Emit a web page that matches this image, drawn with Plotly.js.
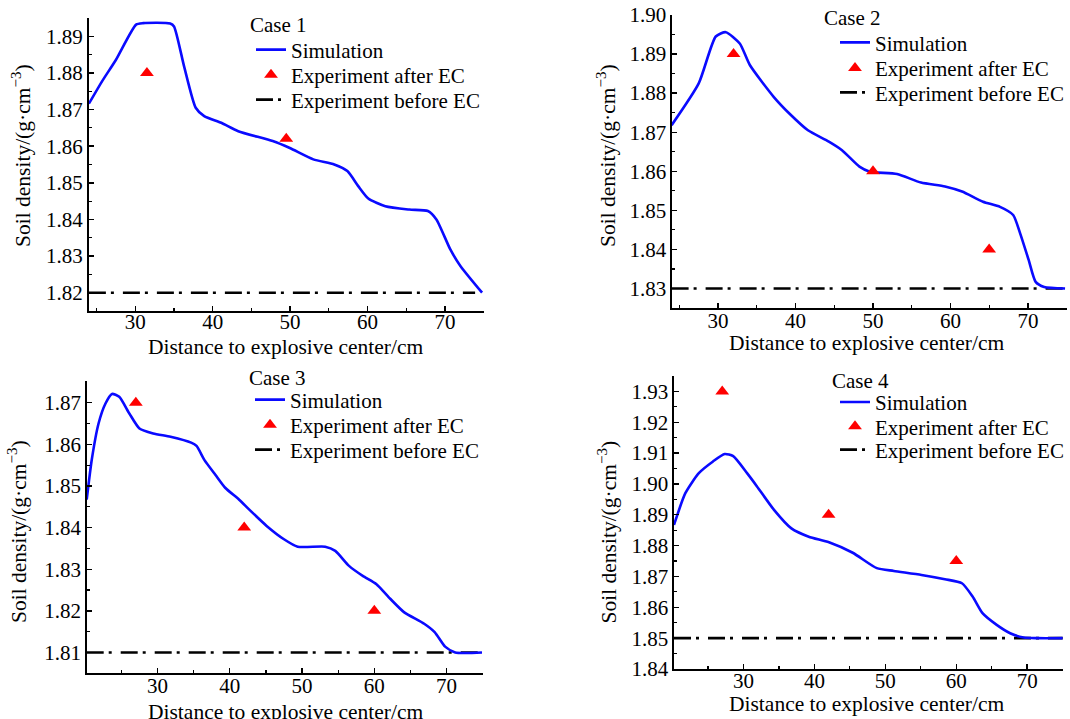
<!DOCTYPE html>
<html>
<head>
<meta charset="utf-8">
<script src="https://cdn.plot.ly/plotly-3.0.1.min.js"></script>
<style>
html,body{margin:0;padding:0;background:#fff;}
#chart{width:1070px;height:719px;}
</style>
</head>
<body>
<div id="chart"></div>
<script>
// ---- Data ----
const caseTitles = ["Case 1", "Case 2", "Case 3", "Case 4"];
const seriesNames = ["Simulation", "Experiment after EC", "Experiment before EC"];
const xTickVals = [30, 40, 50, 60, 70];

const simX1 = [24, 25.7, 27.5, 30.1, 31, 34.5, 35, 36.3, 37.8, 38.9, 41.1, 43.3, 47.75, 49.96, 53, 55.7, 57.4, 58.8, 60.1, 62.3, 65.4, 67.8, 68.9, 70.7, 72, 74.8];
const simY1 = [1.8716, 1.8777, 1.8836, 1.8932, 1.8936, 1.8935, 1.8927, 1.8818, 1.8705, 1.8682, 1.8664, 1.8641, 1.8614, 1.8595, 1.8564, 1.855, 1.8532, 1.8491, 1.8457, 1.8436, 1.8427, 1.8423, 1.84, 1.8318, 1.8273, 1.82];
const expX1 = [31.5, 49.5];
const expY1 = [1.88, 1.862];
const baseX1 = [24, 73.9];
const baseY1 = [1.82, 1.82];

const simX2 = [24, 27.5, 29.7, 31, 32.8, 34.1, 37.2, 39.4, 41.6, 44.3, 46, 48.25, 49.6, 53.1, 56.2, 59.3, 61.5, 64.2, 66.4, 68.1, 69, 70.1, 71, 72.1, 74.8];
const simY2 = [1.8718, 1.8825, 1.8945, 1.8956, 1.8927, 1.8872, 1.879, 1.8744, 1.8705, 1.8676, 1.8654, 1.8612, 1.8599, 1.8593, 1.8571, 1.8561, 1.8548, 1.8522, 1.8509, 1.8488, 1.8441, 1.8373, 1.8317, 1.8304, 1.83];
const expX2 = [32, 50, 65];
const expY2 = [1.89, 1.86, 1.84];
const baseX2 = [24, 74.8];
const baseY2 = [1.83, 1.83];

const simX3 = [20.2, 20.9, 21.84, 22.8, 23.7, 24.7, 26.1, 27.5, 29.4, 31.8, 34.65, 35.4, 36.5, 38, 39.4, 41.3, 42.7, 45.1, 47.5, 49.4, 53.2, 54.6, 56.5, 58.4, 60.3, 62.2, 64.1, 66.9, 68.35, 69.8, 71.2, 74.9];
const simY3 = [1.8467, 1.8563, 1.865, 1.8698, 1.8721, 1.8714, 1.8674, 1.8638, 1.8626, 1.8618, 1.8604, 1.8596, 1.8562, 1.8527, 1.8495, 1.8467, 1.8443, 1.8404, 1.8372, 1.8354, 1.8354, 1.8344, 1.8308, 1.8284, 1.8264, 1.8229, 1.8197, 1.8169, 1.8149, 1.8114, 1.81, 1.81];
const expX3 = [27, 42, 60];
const expY3 = [1.87, 1.84, 1.82];
const baseX3 = [20.2, 74.9];
const baseY3 = [1.81, 1.81];

const simX4 = [20.2, 21.8, 23.7, 25.7, 27.35, 28.55, 30.5, 31.9, 34.3, 36.75, 39.2, 42.05, 45.4, 48.8, 51.2, 55.1, 58.4, 60.8, 62.3, 63.7, 65.7, 67.6, 69.5, 71.4, 75];
const simY4 = [1.8867, 1.897, 1.9035, 1.9073, 1.9097, 1.909, 1.9035, 1.8992, 1.8916, 1.8856, 1.8829, 1.8811, 1.8777, 1.8727, 1.8718, 1.8705, 1.8691, 1.8678, 1.8635, 1.8581, 1.8543, 1.8516, 1.8502, 1.85, 1.85];
const expX4 = [27, 42, 60];
const expY4 = [1.93, 1.89, 1.875];
const baseX4 = [20.2, 75];
const baseY4 = [1.85, 1.85];

const xTitle = "Distance to explosive center/cm";
const yTitle = "Soil density/(g·cm<sup>−3</sup>)";

// ---- Build ----
const FONT = "Liberation Serif";
const sims = [[simX1, simY1], [simX2, simY2], [simX3, simY3], [simX4, simY4]];
const exps = [[expX1, expY1], [expX2, expY2], [expX3, expY3], [expX4, expY4]];
const bases = [[baseX1, baseY1], [baseX2, baseY2], [baseX3, baseY3], [baseX4, baseY4]];

const W = 1070, H = 719;
// plot boxes in pixels: [left, right, top, bottom]
const boxes = [[88.5, 484, 18, 311], [672, 1067, 15, 308], [86.7, 482.7, 381, 673.3], [674, 1063, 376, 669]];
const xRanges = [[23.95, 75.05], [24.05, 75.05], [20.2, 75], [20.2, 75.05]];
const yRanges = [[1.815, 1.895], [1.825, 1.90], [1.805, 1.8752], [1.84, 1.935]];
const xStandoff = [-9, -7, -7, -8];
// legend: text-start x, item centre y for the 3 series
const legendX = [292, 876, 291, 876];
const legendY = [[50, 75, 100], [42.7, 68.3, 92.7], [400, 425, 450], [402.3, 426.7, 450]];
const caseTitlePos = [[248, 25], [822, 18], [247, 378], [830, 380.7]];
const xTitlePos = [[285, 347], [866, 343], [285, 711.5], [866, 704]];
const yTitlePos = [[22, 156], [607, 156], [17, 532], [606.5, 532]];

const traces = [];
const annotations = [];
const layout = {
  width: W, height: H,
  margin: {l: 0, r: 0, t: 0, b: 0},
  paper_bgcolor: "#fff", plot_bgcolor: "#fff",
  font: {family: FONT, size: 21, color: "#000"},
  showlegend: true
};

for (let i = 0; i < 4; i++) {
  const n = i === 0 ? "" : String(i + 1);
  const xa = "x" + n, ya = "y" + n;
  const lgName = j => { const k = 3 * i + j + 1; return k === 1 ? "legend" : "legend" + k; };
  traces.push({
    x: bases[i][0], y: bases[i][1], xaxis: xa, yaxis: ya, legend: lgName(2),
    name: seriesNames[2], mode: "lines",
    line: {color: "#000", width: 2.6, dash: "17px,5px,3px,9px"}
  });
  traces.push({
    x: sims[i][0], y: sims[i][1], xaxis: xa, yaxis: ya, legend: lgName(0),
    name: seriesNames[0], mode: "lines",
    line: {color: "#0a0aff", width: 2.6, shape: "spline", smoothing: 0.6}
  });
  traces.push({
    x: exps[i][0], y: exps[i][1], xaxis: xa, yaxis: ya, legend: lgName(1),
    name: seriesNames[1], mode: "markers",
    marker: {symbol: "triangle-up", size: 12, color: "#ff0000"}
  });
  const b = boxes[i];
  layout["xaxis" + n] = {
    domain: [b[0] / W, b[1] / W], anchor: ya,
    range: xRanges[i], tickmode: "array", tickvals: xTickVals,
    showline: true, linecolor: "#000", linewidth: 1.6,
    ticks: "inside", ticklen: 5, tickwidth: 1.4, tickcolor: "#000",
    minor: {ticks: "inside", ticklen: 3, tickwidth: 1.2, tickcolor: "#000", tick0: 0, dtick: 5, showgrid: false},
    showgrid: false, zeroline: false, mirror: false,
    tickfont: {family: FONT, size: 21, color: "#000"},
    ticklabelstandoff: xStandoff[i],
    automargin: false
  };
  layout["yaxis" + n] = {
    domain: [1 - b[3] / H, 1 - b[2] / H], anchor: xa,
    range: yRanges[i], dtick: 0.01, tick0: 1.8, tickformat: ".2f",
    showline: true, linecolor: "#000", linewidth: 1.6,
    ticks: "inside", ticklen: 5, tickwidth: 1.4, tickcolor: "#000",
    minor: {ticks: "inside", ticklen: 3, tickwidth: 1.2, tickcolor: "#000", dtick: 0.005, showgrid: false},
    showgrid: false, zeroline: false, mirror: false,
    tickfont: {family: FONT, size: 21, color: "#000"},
    ticklabelstandoff: 0,
    automargin: false
  };
  for (let j = 0; j < 3; j++) {
    layout[lgName(j)] = {
      x: (legendX[i] - 41) / W, y: 1 - legendY[i][j] / H,
      xanchor: "left", yanchor: "middle",
      bgcolor: "rgba(0,0,0,0)", borderwidth: 0,
      font: {family: FONT, size: 21, color: "#000"},
      itemwidth: 30
    };
  }
  annotations.push({
    text: caseTitles[i], xref: "paper", yref: "paper",
    x: caseTitlePos[i][0] / W, y: 1 - caseTitlePos[i][1] / H,
    xanchor: "left", yanchor: "middle", showarrow: false,
    font: {family: FONT, size: 21, color: "#000"}
  });
  annotations.push({
    text: xTitle, xref: "paper", yref: "paper",
    x: xTitlePos[i][0] / W, y: 1 - xTitlePos[i][1] / H,
    xanchor: "center", yanchor: "middle", showarrow: false,
    font: {family: FONT, size: 21.5, color: "#000"}
  });
  annotations.push({
    text: yTitle, xref: "paper", yref: "paper", textangle: -90,
    x: yTitlePos[i][0] / W, y: 1 - yTitlePos[i][1] / H,
    xanchor: "center", yanchor: "middle", showarrow: false,
    font: {family: FONT, size: 21.5, color: "#000"}
  });
}
layout.annotations = annotations;

Plotly.newPlot("chart", traces, layout, {staticPlot: true});
</script>
</body>
</html>
